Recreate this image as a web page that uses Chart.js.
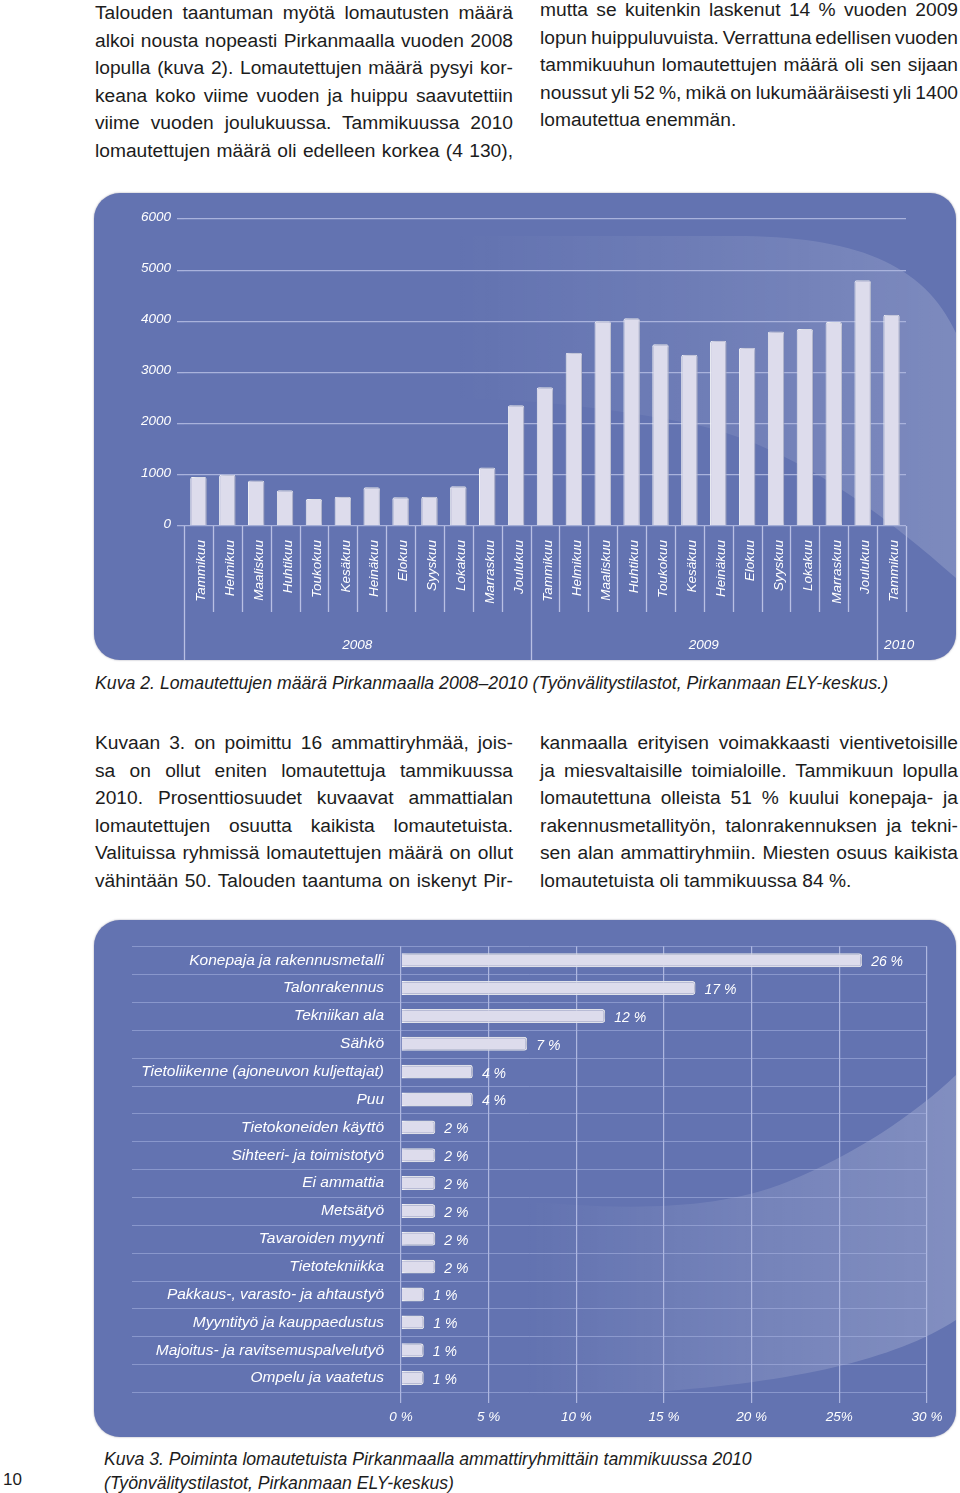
<!DOCTYPE html>
<html>
<head>
<meta charset="utf-8">
<script src="https://cdn.jsdelivr.net/npm/chart.js@4.4.1/dist/chart.umd.min.js"></script>
<style>
body{margin:0;width:960px;height:1493px;position:relative;background:#fff;overflow:hidden;
font-family:"Liberation Sans",Arial,sans-serif;color:#1c1c1c}
.col{position:absolute;width:418px;font-size:19.2px;line-height:27.6px}
.col div{white-space:nowrap}
.panel{position:absolute;left:94px;width:862px;border-radius:26px;background:#6373b1;
box-shadow:0 0 2px rgba(70,70,100,.55);overflow:hidden}
#p1{top:193px;height:467px}
#p2{top:920px;height:517px}
.panel canvas{position:absolute;left:0;top:0}
.cap{position:absolute;font-style:italic;white-space:nowrap;font-size:17px;line-height:20px}
#pageNo{position:absolute;left:3px;top:1470px;font-size:17px}
</style>
</head>
<body>

<div class="col" style="left:95px;top:-1px">
<div>Talouden taantuman myötä lomautusten määrä</div>
<div>alkoi nousta nopeasti Pirkanmaalla vuoden 2008</div>
<div>lopulla (kuva 2). Lomautettujen määrä pysyi kor-</div>
<div>keana koko viime vuoden ja huippu saavutettiin</div>
<div>viime vuoden joulukuussa. Tammikuussa 2010</div>
<div>lomautettujen määrä oli edelleen korkea (4 130),</div>
</div>
<div class="col" style="left:540px;top:-4px">
<div>mutta se kuitenkin laskenut 14 % vuoden 2009</div>
<div>lopun huippuluvuista. Verrattuna edellisen vuoden</div>
<div>tammikuuhun lomautettujen määrä oli sen sijaan</div>
<div>noussut yli 52 %, mikä on lukumääräisesti yli 1400</div>
<div class="last">lomautettua enemmän.</div>
</div>

<div class="panel" id="p1"><canvas id="monthChart" width="862" height="467"></canvas></div>

<div class="cap fit" data-w="794" style="left:95px;top:673px"><span>Kuva 2. Lomautettujen määrä Pirkanmaalla 2008–2010 (Työnvälitystilastot, Pirkanmaan ELY-keskus.)</span></div>

<div class="col" style="left:95px;top:729px">
<div>Kuvaan 3. on poimittu 16 ammattiryhmää, jois-</div>
<div>sa on ollut eniten lomautettuja tammikuussa</div>
<div>2010. Prosenttiosuudet kuvaavat ammattialan</div>
<div>lomautettujen osuutta kaikista lomautetuista.</div>
<div>Valituissa ryhmissä lomautettujen määrä on ollut</div>
<div>vähintään 50. Talouden taantuma on iskenyt Pir-</div>
</div>
<div class="col" style="left:540px;top:729px">
<div>kanmaalla erityisen voimakkaasti vientivetoisille</div>
<div>ja miesvaltaisille toimialoille. Tammikuun lopulla</div>
<div>lomautettuna olleista 51 % kuului konepaja- ja</div>
<div>rakennusmetallityön, talonrakennuksen ja tekni-</div>
<div>sen alan ammattiryhmiin. Miesten osuus kaikista</div>
<div class="last">lomautetuista oli tammikuussa 84 %.</div>
</div>

<div class="panel" id="p2"><canvas id="jobChart" width="862" height="517"></canvas></div>

<div id="pageNo">10</div>
<div class="cap fit" data-w="648" style="left:104px;top:1449px"><span>Kuva 3. Poiminta lomautetuista Pirkanmaalla ammattiryhmittäin tammikuussa 2010</span></div>
<div class="cap" style="left:104px;top:1473px"><span id="cap3b">(Työnvälitystilastot, Pirkanmaan ELY-keskus)</span></div>

<script>
// Kuva 2 data
const monthLabels = [
"Tammikuu","Helmikuu","Maaliskuu","Huhtikuu","Toukokuu","Kesäkuu",
"Heinäkuu","Elokuu","Syyskuu","Lokakuu","Marraskuu","Joulukuu",
"Tammikuu","Helmikuu","Maaliskuu","Huhtikuu","Toukokuu","Kesäkuu",
"Heinäkuu","Elokuu","Syyskuu","Lokakuu","Marraskuu","Joulukuu",
"Tammikuu"
];
const laidOff = [
960,1000,890,700,530,570,755,560,570,775,1145,2360,
2710,3385,4000,4060,3550,3345,3620,3485,3800,3850,3985,4805,
4130
];
const years = ["2008","2009","2010"];
const monthsPerYear = [12,12,1];
const yTicks = [0,1000,2000,3000,4000,5000,6000];

// Kuva 3 data
const occupations = [
"Konepaja ja rakennusmetalli",
"Talonrakennus",
"Tekniikan ala",
"Sähkö",
"Tietoliikenne (ajoneuvon kuljettajat)",
"Puu",
"Tietokoneiden käyttö",
"Sihteeri- ja toimistotyö",
"Ei ammattia",
"Metsätyö",
"Tavaroiden myynti",
"Tietotekniikka",
"Pakkaus-, varasto- ja ahtaustyö",
"Myyntityö ja kauppaedustus",
"Majoitus- ja ravitsemuspalvelutyö",
"Ompelu ja vaatetus"
];
const shares = [26.3,16.8,11.65,7.2,4.1,4.1,1.96,1.96,1.96,1.96,1.96,1.96,1.33,1.33,1.3,1.3];
const pctTicks = [0,5,10,15,20,25,30];
const pctTickLabels = ["0 %","5 %","10 %","15 %","20 %","25%","30 %"];

// justify each text line to the column width
document.querySelectorAll(".col div").forEach(line=>{
let text = line.textContent;
line.innerHTML = "<span>" + text + "</span>";
if(line.classList.contains("last")) return;
let w = line.firstChild.getBoundingClientRect().width;
let gaps = (text.match(/ /g) || []).length;
if(gaps) line.style.wordSpacing = ((418 - w) / gaps) + "px";
});

// captions fitted to their width
document.querySelectorAll(".fit").forEach(el=>{
let span = el.querySelector("span");
let w = span.getBoundingClientRect().width;
el.style.fontSize = (17 * el.dataset.w / w) + "px";
});
document.getElementById("cap3b").parentNode.style.fontSize =
document.querySelectorAll(".fit")[1].style.fontSize;

const FONT = "'Liberation Sans', Arial, sans-serif";
const white = "#ffffff";

function shine(pathFn, x0, x1, a1, a2){
return {
id:"shine",
beforeDraw(chart){
const ctx = chart.ctx;
ctx.save();
const g = ctx.createLinearGradient(x0,0,x1,0);
g.addColorStop(0,"rgba(255,255,255,0)");
g.addColorStop(0.5,"rgba(255,255,255," + a1 + ")");
g.addColorStop(1,"rgba(255,255,255," + a2 + ")");
ctx.fillStyle = g;
ctx.beginPath();
pathFn(ctx);
ctx.closePath();
ctx.fill();
ctx.restore();
}
};
}

const barShadow = {
id:"barShadow",
beforeDatasetsDraw(chart){
const ctx = chart.ctx;
ctx.save();
ctx.shadowColor = "rgba(35,45,100,0.4)";
ctx.shadowBlur = 4;
ctx.shadowOffsetX = 2;
ctx.shadowOffsetY = 0;
},
afterDatasetsDraw(chart){
chart.ctx.restore();
}
};

// month separators and year row
const monthSeparators = {
id:"monthSeparators",
afterDraw(chart){
const {ctx, chartArea, scales:{x}} = chart;
const n = monthLabels.length;
const half = (x.getPixelForValue(1) - x.getPixelForValue(0)) / 2;
const edge = i => i < n ? x.getPixelForValue(i) - half : x.getPixelForValue(n-1) + half;
let starts = [];
let s = 0;
monthsPerYear.forEach(m=>{ starts.push(s); s += m; });
ctx.save();
ctx.strokeStyle = "#b9c0e4";
ctx.lineWidth = 1.3;
for(let i=0;i<=n;i++){
const px = Math.round(edge(i)) + 0.5;
const yEnd = starts.includes(i) ? chart.height : chartArea.bottom + 86;
ctx.beginPath();
ctx.moveTo(px, chartArea.bottom);
ctx.lineTo(px, yEnd);
ctx.stroke();
}
ctx.fillStyle = white;
ctx.font = "italic 13.5px " + FONT;
ctx.textAlign = "center";
ctx.textBaseline = "middle";
years.forEach((yr,k)=>{
const a = edge(starts[k]);
const b = edge(starts[k] + monthsPerYear[k]);
const tw = ctx.measureText(yr).width;
const cx = Math.max((a+b)/2, a + 7 + tw/2);
ctx.fillText(yr, cx, chartArea.bottom + 119);
});
ctx.restore();
}
};

new Chart(document.getElementById("monthChart"),{
type:"bar",
data:{
labels:monthLabels,
datasets:[{
data:laidOff,
backgroundColor:"#dddcec",
borderColor:white,
borderWidth:1,
borderRadius:{topLeft:2,topRight:2},
borderSkipped:"bottom",
barPercentage:0.57,
categoryPercentage:1
}]
},
options:{
responsive:false,
animation:false,
layout:{padding:{top:26,right:50,left:0,bottom:0}},
plugins:{legend:{display:false},tooltip:{enabled:false}},
scales:{
x:{
grid:{display:false,drawTicks:false},
border:{display:false},
ticks:{color:white,font:{family:FONT,size:13.5,style:"italic"},
maxRotation:90,minRotation:90,padding:14,autoSkip:false,labelOffset:3},
afterFit(scale){ scale.height = 134; }
},
y:{
min:0,max:6000,
afterBuildTicks(scale){ scale.ticks = yTicks.map(v=>({value:v})); },
grid:{color:"#a9b2dc",lineWidth:1.3,tickLength:7},
border:{display:false},
ticks:{color:white,font:{family:FONT,size:13.5,style:"italic"},padding:6,
labelOffset:-2,callback:v=>String(v)},
afterFit(scale){ scale.width = 90; }
}
}
},
plugins:[
shine(ctx=>{
ctx.moveTo(330,43);
ctx.lineTo(640,43);
ctx.bezierCurveTo(760,43,830,70,862,140);
ctx.lineTo(862,385);
ctx.bezierCurveTo(800,330,700,250,593,230);
ctx.bezierCurveTo(500,212,420,205,330,205);
},360,862,0.08,0.17),
barShadow,
monthSeparators
]
});

// row lines and value labels
const rowLines = {
id:"rowLines",
beforeDatasetsDraw(chart){
const {ctx, chartArea, scales:{y}} = chart;
const n = occupations.length;
const half = (y.getPixelForValue(1) - y.getPixelForValue(0)) / 2;
ctx.save();
ctx.strokeStyle = "rgba(170,180,225,0.55)";
ctx.lineWidth = 1;
for(let i=0;i<=n;i++){
const py = Math.round(i < n ? y.getPixelForValue(i) - half : y.getPixelForValue(n-1) + half) + 0.5;
ctx.beginPath();
ctx.moveTo(38, py);
ctx.lineTo(chartArea.right, py);
ctx.stroke();
}
ctx.restore();
}
};

const valueLabels = {
id:"valueLabels",
afterDraw(chart){
const ctx = chart.ctx;
const meta = chart.getDatasetMeta(0);
ctx.save();
ctx.fillStyle = white;
ctx.font = "italic 14px " + FONT;
ctx.textAlign = "left";
ctx.textBaseline = "middle";
meta.data.forEach((bar,i)=>{
ctx.fillText(Math.round(shares[i]) + " %", bar.x + 9, bar.y + 2);
});
ctx.restore();
}
};

new Chart(document.getElementById("jobChart"),{
type:"bar",
data:{
labels:occupations,
datasets:[{
data:shares,
backgroundColor:"#dddcec",
borderColor:white,
borderWidth:1.5,
borderRadius:3,
borderSkipped:"start",
barPercentage:0.5,
categoryPercentage:1
}]
},
options:{
indexAxis:"y",
responsive:false,
animation:false,
layout:{padding:{top:24,right:29,left:0,bottom:0}},
plugins:{legend:{display:false},tooltip:{enabled:false}},
scales:{
x:{
min:0,max:30,
afterBuildTicks(scale){ scale.ticks = pctTicks.map(v=>({value:v})); },
grid:{color:"#aeb7e0",lineWidth:1.2,tickLength:11},
border:{display:false},
ticks:{color:white,font:{family:FONT,size:13.5,style:"italic"},padding:6,
callback:(v,i)=>pctTickLabels[i]},
afterFit(scale){ scale.height = 45; }
},
y:{
grid:{display:false,drawTicks:false,tickLength:0},
border:{display:false},
ticks:{color:white,font:{family:FONT,size:15.5,style:"italic"},padding:17,autoSkip:false},
afterFit(scale){ scale.width = 307; }
}
}
},
plugins:[
shine(ctx=>{
ctx.moveTo(420,280);
ctx.bezierCurveTo(520,290,620,292,693,262);
ctx.bezierCurveTo(760,235,820,195,862,155);
ctx.lineTo(862,400);
ctx.bezierCurveTo(800,440,700,462,560,472);
ctx.lineTo(420,476);
},430,862,0.11,0.2),
rowLines,
barShadow,
valueLabels
]
});
</script>
</body>
</html>
